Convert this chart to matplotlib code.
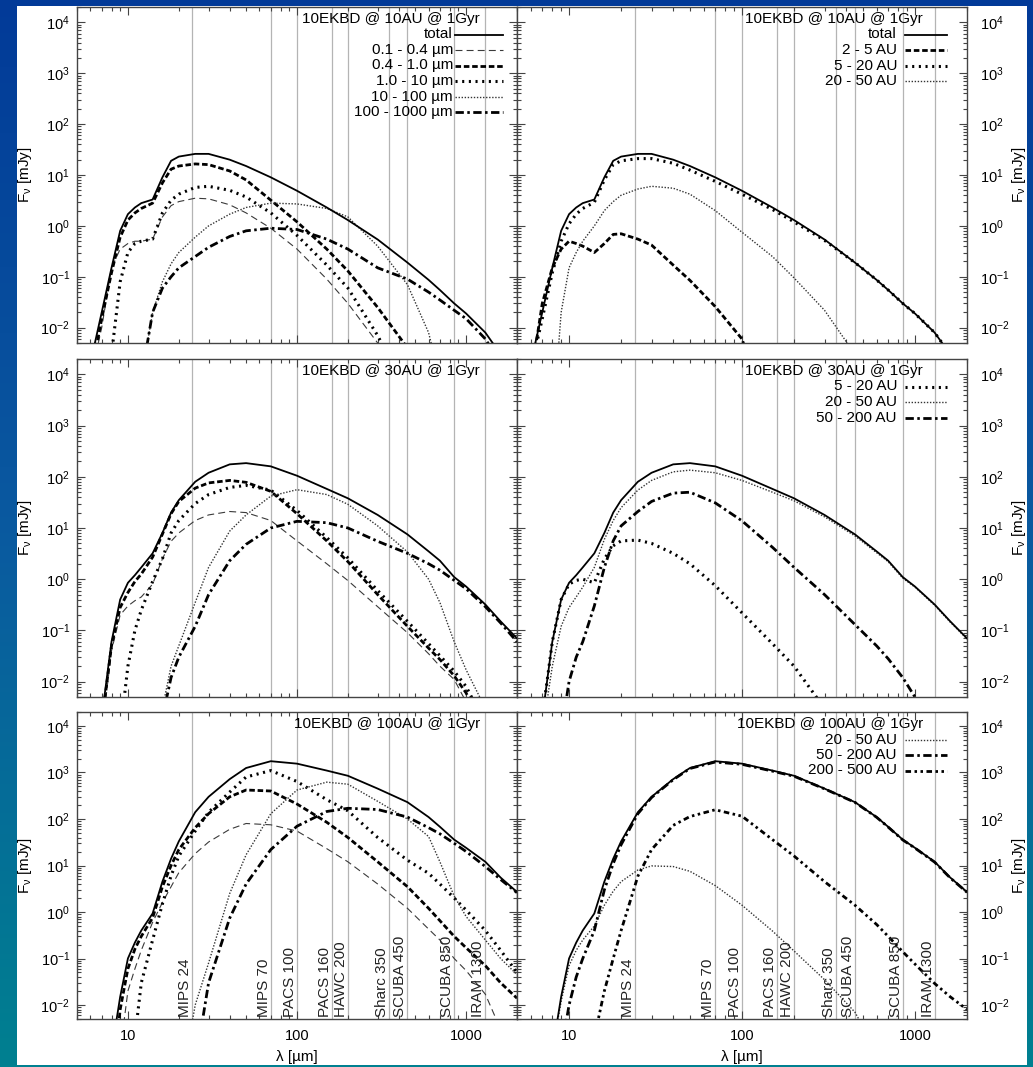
import matplotlib
matplotlib.use("Agg")
import matplotlib.pyplot as plt
import numpy as np
from matplotlib.colors import LinearSegmentedColormap
from matplotlib.patches import Rectangle
from matplotlib.ticker import (FixedLocator, LogLocator, NullFormatter,
                               LogFormatterSciNotation, FuncFormatter)
from matplotlib.transforms import blended_transform_factory

plt.rcParams["font.family"] = ["Liberation Sans", "DejaVu Sans"]
plt.rcParams["mathtext.fontset"] = "custom"
plt.rcParams["mathtext.rm"] = "Liberation Sans"
plt.rcParams["mathtext.it"] = "Liberation Sans:italic"
plt.rcParams["mathtext.default"] = "regular"
plt.rcParams["lines.scale_dashes"] = False

WL = [5, 6, 7, 8, 9, 10, 11, 12, 14, 16, 18, 20, 25, 30, 40, 50, 70, 100,
      150, 200, 300, 450, 600, 700, 850, 1000, 1300, 1600, 2000]

# ---- 10 AU disc ----
TOTAL_10AU = [1e-4, 2e-3, 0.02, 0.15, 0.8, 1.7, 2.3, 2.8, 3.3, 9, 19, 23, 26, 26, 20, 15, 9, 4.9,
              2.3, 1.3, 0.54, 0.19, 0.087, 0.055, 0.03, 0.019, 0.008, 0.003, 1e-3]
SIZE_10AU_01_04 = [1e-4, 1e-3, 0.01, 0.15, 0.35, 0.45, 0.5, 0.5, 0.55, 1.5, 2.5, 3.0, 3.5, 3.4, 2.6, 1.8, 0.9, 0.35,
                   0.09, 0.03, 0.005, 1e-4, 1e-4, 1e-4, 1e-4, 1e-4, 1e-4, 1e-4, 1e-4]
SIZE_10AU_04_1 = [1e-4, 1e-3, 0.015, 0.12, 0.6, 1.3, 1.8, 2.2, 2.8, 7, 13, 15, 16.5, 16, 12, 8, 3.2, 1.2,
                  0.35, 0.13, 0.025, 0.004, 1e-4, 1e-4, 1e-4, 1e-4, 1e-4, 1e-4, 1e-4]
SIZE_10AU_1_10 = [1e-4, 1e-4, 1e-4, 0.003, 0.08, 0.3, 0.45, 0.5, 0.55, 1.8, 3.2, 4.2, 5.7, 6.0, 5.0, 3.7, 1.8, 0.65,
                  0.17, 0.06, 0.007, 5e-4, 1e-4, 1e-4, 1e-4, 1e-4, 1e-4, 1e-4, 1e-4]
SIZE_10AU_10_100 = [1e-4, 1e-4, 1e-4, 1e-4, 1e-4, 1e-4, 1e-4, 1e-3, 0.02, 0.08, 0.18, 0.3, 0.6, 1.0, 1.7, 2.3, 2.8, 2.7,
                    2.2, 1.5, 0.4, 0.07, 0.008, 1e-3, 1e-4, 1e-4, 1e-4, 1e-4, 1e-4]
SIZE_10AU_100_1000 = [1e-4, 1e-4, 1e-4, 1e-4, 1e-4, 1e-4, 1e-4, 1e-3, 0.02, 0.06, 0.1, 0.15, 0.25, 0.38, 0.62, 0.8, 0.9, 0.85,
                      0.55, 0.35, 0.15, 0.09, 0.05, 0.035, 0.022, 0.015, 0.006, 0.002, 6e-4]
RING_10AU_2_5 = [1e-4, 1e-3, 0.03, 0.15, 0.35, 0.5, 0.45, 0.4, 0.3, 0.45, 0.68, 0.7, 0.55, 0.42, 0.17, 0.085, 0.026, 0.006,
                 1e-4, 1e-4, 1e-4, 1e-4, 1e-4, 1e-4, 1e-4, 1e-4, 1e-4, 1e-4, 1e-4]
RING_10AU_5_20 = [1e-4, 1.5e-3, 0.015, 0.12, 0.5, 1.1, 1.7, 2.2, 2.9, 8, 16, 19, 21, 21, 17, 12.5, 7.5, 4.2,
                  2.1, 1.2, 0.52, 0.19, 0.087, 0.055, 0.03, 0.019, 0.008, 0.003, 1e-3]
RING_10AU_20_50 = [1e-4, 1e-4, 1e-4, 1e-4, 0.02, 0.15, 0.3, 0.5, 1.0, 2.0, 3.0, 4.0, 5.3, 6.0, 5.5, 4.2, 2.0, 0.75,
                   0.25, 0.095, 0.022, 3e-3, 5e-4, 1e-4, 1e-4, 1e-4, 1e-4, 1e-4, 1e-4]

# ---- 30 AU disc ----
TOTAL_30AU = [1e-4, 1e-4, 2e-3, 0.06, 0.4, 0.85, 1.2, 1.7, 3.2, 8, 20, 35, 80, 120, 175, 185, 160, 105,
              58, 38, 18, 7.5, 3.5, 2.3, 1.1, 0.72, 0.32, 0.15, 0.07]
SIZE_30AU_01_04 = [1e-4, 1e-4, 1e-3, 0.04, 0.2, 0.3, 0.38, 0.45, 0.8, 2.5, 5.5, 8, 14, 18, 21, 20, 14, 5.6,
                   2.0, 0.94, 0.29, 0.09, 0.035, 0.02, 0.011, 4e-3, 1e-4, 1e-4, 1e-4]
SIZE_30AU_04_1 = [1e-4, 1e-4, 1.5e-3, 0.05, 0.28, 0.55, 0.9, 1.26, 2.7, 7.6, 19, 33, 60, 76, 85, 78, 52, 19,
                  5.6, 2.2, 0.5, 0.12, 0.045, 0.027, 0.013, 0.006, 1e-3, 1e-4, 1e-4]
SIZE_30AU_1_10 = [1e-4, 1e-4, 1e-4, 1e-4, 1e-3, 0.02, 0.1, 0.25, 0.9, 2.5, 8, 14, 30, 45, 62, 68, 55, 22,
                  6.5, 2.6, 0.6, 0.15, 0.055, 0.032, 0.016, 0.008, 1.5e-3, 1e-4, 1e-4]
SIZE_30AU_10_100 = [1e-4, 1e-4, 1e-4, 1e-4, 1e-4, 1e-4, 1e-4, 1e-4, 1e-4, 3e-3, 0.02, 0.05, 0.35, 1.7, 8.7, 18, 42, 56,
                    45, 29, 11, 3.4, 1.0, 0.35, 0.06, 0.017, 0.003, 1e-4, 1e-4]
SIZE_30AU_100_1000 = [1e-4, 1e-4, 1e-4, 1e-4, 1e-4, 1e-4, 1e-4, 1e-4, 1e-4, 2e-3, 0.012, 0.03, 0.12, 0.5, 2.3, 4.8, 10, 13.5,
                      12.7, 10, 5.5, 3.2, 2.0, 1.5, 0.95, 0.65, 0.29, 0.14, 0.06]
RING_30AU_5_20 = [1e-4, 1e-4, 2e-3, 0.06, 0.4, 0.8, 0.95, 1.0, 0.85, 2.5, 4.5, 5.6, 5.8, 5.0, 3.2, 2.0, 0.75, 0.22,
                  0.055, 0.02, 3e-3, 1e-4, 1e-4, 1e-4, 1e-4, 1e-4, 1e-4, 1e-4, 1e-4]
RING_30AU_20_50 = [1e-4, 1e-4, 1e-3, 0.02, 0.12, 0.28, 0.45, 0.7, 1.7, 6, 14, 25, 55, 85, 125, 135, 120, 85,
                   50, 34, 16.5, 7, 3.3, 2.2, 1.05, 0.7, 0.31, 0.145, 0.068]
RING_30AU_50_200 = [1e-4, 1e-4, 1e-4, 1e-4, 1e-3, 0.01, 0.03, 0.06, 0.3, 1.7, 5.6, 11, 21, 33, 48, 50, 31, 13.8,
                    4.2, 1.7, 0.5, 0.13, 0.05, 0.028, 0.012, 5e-3, 1.2e-3, 1e-4, 1e-4]

# ---- 100 AU disc ----
TOTAL_100AU = [1e-4, 1e-4, 1e-4, 1e-3, 0.015, 0.1, 0.22, 0.4, 0.93, 4.5, 14, 33, 140, 300, 720, 1250, 1750, 1550,
               1100, 850, 450, 230, 110, 68, 36, 24, 12, 5.5, 2.7]
SIZE_100AU_01_04 = [1e-4, 1e-4, 1e-4, 1e-4, 1e-3, 0.02, 0.06, 0.15, 0.6, 1.6, 3.5, 7, 18, 32, 60, 80, 75, 55,
                    23, 12, 4, 1.2, 0.43, 0.25, 0.1, 0.055, 0.017, 3e-3, 1e-4]
SIZE_100AU_04_1 = [1e-4, 1e-4, 1e-4, 1e-4, 8e-3, 0.06, 0.16, 0.3, 0.75, 3.5, 10, 22, 65, 130, 300, 420, 400, 210,
                   85, 40, 12, 3.5, 1.2, 0.65, 0.3, 0.17, 0.07, 0.03, 0.014]
SIZE_100AU_1_10 = [1e-4, 1e-4, 1e-4, 1e-4, 1e-4, 1e-4, 2e-3, 0.03, 0.25, 1.5, 6, 16, 55, 140, 380, 800, 1100, 640,
                   260, 150, 40, 13, 6.8, 4, 2, 1.1, 0.4, 0.15, 0.05]
SIZE_100AU_10_100 = [1e-4, 1e-4, 1e-4, 1e-4, 1e-4, 1e-4, 1e-4, 1e-4, 1e-4, 1e-4, 1e-4, 1e-4, 0.01, 0.08, 2.5, 17, 130, 420,
                     620, 560, 240, 100, 42, 12, 2.2, 0.8, 0.25, 0.1, 0.045]
SIZE_100AU_100_1000 = [1e-4, 1e-4, 1e-4, 1e-4, 1e-4, 1e-4, 1e-4, 1e-4, 1e-4, 1e-4, 1e-4, 1e-4, 5e-4, 0.03, 0.74, 4, 22, 70,
                       145, 170, 160, 110, 65, 48, 30, 20, 9.5, 5, 2.6]
RING_100AU_20_50 = [1e-4, 1e-4, 1e-4, 1e-3, 0.012, 0.07, 0.15, 0.25, 0.5, 1.4, 2.8, 4.5, 8, 9.8, 9.5, 7.5, 3.7, 1.4,
                    0.39, 0.145, 0.035, 0.007, 1e-3, 1e-4, 1e-4, 1e-4, 1e-4, 1e-4, 1e-4]
RING_100AU_50_200 = [1e-4, 1e-4, 1e-4, 1e-4, 1e-3, 0.01, 0.04, 0.1, 0.4, 3, 11, 28, 130, 290, 700, 1220, 1680, 1500,
                     1070, 830, 445, 228, 109, 67, 35.5, 23.7, 11.8, 5.4, 2.65]
RING_100AU_200_500 = [1e-4, 1e-4, 1e-4, 1e-4, 1e-4, 1e-4, 1e-4, 1e-4, 2e-3, 0.02, 0.1, 0.4, 5.9, 22, 73, 113, 158, 115,
                      36, 16, 4.5, 1.4, 0.54, 0.3, 0.14, 0.076, 0.029, 0.015, 0.008]

FILTER_WL = [24, 70, 100, 160, 200, 350, 450, 850, 1300]
FILTER_NAMES = ["MIPS 24", "MIPS 70", "PACS 100", "PACS 160", "HAWC 200",
                "Sharc 350", "SCUBA 450", "SCUBA 850", "IRAM 1300"]
SIZE_LABELS = ["0.1 - 0.4 µm", "0.4 - 1.0 µm", "1.0 - 10 µm", "10 - 100 µm", "100 - 1000 µm"]
Y_DECADES = [1e-2, 1e-1, 1e0, 1e1, 1e2, 1e3, 1e4]
X_DECADES = [10, 100, 1000]

STYLE = {
    "total": dict(color="black", lw=1.3, ls="-"),
    "thin_dash": dict(color="#3a3a3a", lw=0.8, dashes=(5, 3)),
    "dash": dict(color="black", lw=2.0, dashes=(4, 2)),
    "dot": dict(color="black", lw=2.2, dashes=(1.5, 3.3)),
    "fine_dot": dict(color="#333333", lw=1.0, dashes=(1, 1.2)),
    "dashdot": dict(color="black", lw=2.0, dashes=(6, 2.5, 1.8, 2.5)),
    "dashdotdot": dict(color="black", lw=2.0, dashes=(4, 2.5, 1.8, 2.5, 1.8, 2.5)),
}
SIZE_STYLES = ["thin_dash", "dash", "dot", "fine_dot", "dashdot"]

W, H = 1033, 1067
ROWS = [(7, 343), (359, 697), (712, 1019)]
COLS = [(77, 517), (517, 967)]


def box(l, t, r, b):
    return [l / W, 1 - b / H, (r - l) / W, (b - t) / H]


def draw_key(ax, col, title, entries, w_px, h_px):
    title_dx = 37 if col == 0 else 44
    lab_dx = 64 if col == 0 else 70
    s0, s1 = (62, 14) if col == 0 else (62, 20)
    y = 1 - 12 / h_px
    ax.text(1 - title_dx / w_px, y, title, transform=ax.transAxes,
            ha="right", va="center", fontsize=11)
    for i, (lab, st) in enumerate(entries):
        yy = 1 - (12 + 15.5 * (i + 1)) / h_px
        ax.text(1 - lab_dx / w_px, yy, lab, transform=ax.transAxes,
                ha="right", va="center", fontsize=11)
        ax.plot([1 - s0 / w_px, 1 - s1 / w_px], [yy, yy], transform=ax.transAxes, **STYLE[st])


def main():
    fig = plt.figure(figsize=(W / 100, H / 100), dpi=100)

    # gradient backdrop and white sheet
    bg = fig.add_axes([0, 0, 1, 1], zorder=-10)
    cmap = LinearSegmentedColormap.from_list("bg", ["#023a98", "#0a5aa0", "#008090"])
    bg.imshow(np.linspace(0, 1, 256).reshape(-1, 1), cmap=cmap, aspect="auto", extent=[0, 1, 0, 1])
    bg.axis("off")
    fig.add_artist(Rectangle((17 / W, 2 / H), (1027 - 17) / W, (1061 - 2) / H,
                             transform=fig.transFigure, facecolor="white", edgecolor="none", zorder=-5))

    panels = [
        (0, 0, "10EKBD @ 10AU @ 1Gyr", TOTAL_10AU,
         [SIZE_10AU_01_04, SIZE_10AU_04_1, SIZE_10AU_1_10, SIZE_10AU_10_100, SIZE_10AU_100_1000],
         SIZE_STYLES, [("total", "total")] + list(zip(SIZE_LABELS, SIZE_STYLES))),
        (0, 1, "10EKBD @ 10AU @ 1Gyr", TOTAL_10AU,
         [RING_10AU_2_5, RING_10AU_5_20, RING_10AU_20_50], ["dash", "dot", "fine_dot"],
         [("total", "total"), ("2 - 5 AU", "dash"), ("5 - 20 AU", "dot"), ("20 - 50 AU", "fine_dot")]),
        (1, 0, "10EKBD @ 30AU @ 1Gyr", TOTAL_30AU,
         [SIZE_30AU_01_04, SIZE_30AU_04_1, SIZE_30AU_1_10, SIZE_30AU_10_100, SIZE_30AU_100_1000],
         SIZE_STYLES, []),
        (1, 1, "10EKBD @ 30AU @ 1Gyr", TOTAL_30AU,
         [RING_30AU_5_20, RING_30AU_20_50, RING_30AU_50_200], ["dot", "fine_dot", "dashdot"],
         [("5 - 20 AU", "dot"), ("20 - 50 AU", "fine_dot"), ("50 - 200 AU", "dashdot")]),
        (2, 0, "10EKBD @ 100AU @ 1Gyr", TOTAL_100AU,
         [SIZE_100AU_01_04, SIZE_100AU_04_1, SIZE_100AU_1_10, SIZE_100AU_10_100, SIZE_100AU_100_1000],
         SIZE_STYLES, []),
        (2, 1, "10EKBD @ 100AU @ 1Gyr", TOTAL_100AU,
         [RING_100AU_20_50, RING_100AU_50_200, RING_100AU_200_500], ["fine_dot", "dashdot", "dashdotdot"],
         [("20 - 50 AU", "fine_dot"), ("50 - 200 AU", "dashdot"), ("200 - 500 AU", "dashdotdot")]),
    ]

    for row, col, title, total, comps, styles, key in panels:
        t, b = ROWS[row]
        l, r = COLS[col]
        ax = fig.add_axes(box(l, t, r, b))
        ax.set_xscale("log")
        ax.set_yscale("log")
        ax.set_xlim(5, 2000)
        ax.set_ylim(5e-3, 2e4)
        for wl in FILTER_WL:
            ax.axvline(wl, color="#b4b4b4", lw=0.9, zorder=1)
        ax.plot(WL, total, zorder=3, **STYLE["total"])
        for vals, st in zip(comps, styles):
            ax.plot(WL, vals, zorder=2, **STYLE[st])

        ax.yaxis.set_major_locator(FixedLocator(Y_DECADES))
        ax.yaxis.set_minor_locator(LogLocator(base=10, subs=np.arange(2, 10), numticks=20))
        ax.yaxis.set_major_formatter(LogFormatterSciNotation())
        ax.yaxis.set_minor_formatter(NullFormatter())
        ax.xaxis.set_major_locator(FixedLocator(X_DECADES))
        ax.xaxis.set_minor_locator(LogLocator(base=10, subs=np.arange(2, 10), numticks=10))
        ax.xaxis.set_major_formatter(FuncFormatter(lambda v, p: f"{v:g}"))
        ax.xaxis.set_minor_formatter(NullFormatter())
        ax.tick_params(which="both", direction="in", top=True, right=True,
                       color="#444444", width=0.8, labelsize=10.5)
        ax.tick_params(which="major", length=6)
        ax.tick_params(which="minor", length=3)
        ax.tick_params(axis="x", pad=7)
        for sp in ax.spines.values():
            sp.set_color("#444444")
            sp.set_linewidth(1.0)

        if col == 0:
            ax.tick_params(axis="y", labelleft=True, labelright=False, pad=5)
            ax.set_ylabel(r"F$_\nu$ [mJy]", fontsize=11)
            ax.yaxis.set_label_coords(-0.098, 0.5)
        else:
            ax.tick_params(axis="y", labelleft=False, labelright=True, pad=9)
            ax.yaxis.set_label_position("right")
            ax.set_ylabel(r"F$_\nu$ [mJy]", fontsize=11)
            ax.yaxis.set_label_coords(1.095, 0.5)
        if row < 2:
            ax.tick_params(axis="x", labelbottom=False)
        else:
            ax.set_xlabel("λ [µm]", fontsize=11)
            ax.xaxis.set_label_coords(0.5, -0.1)
            trans = blended_transform_factory(ax.transData, ax.transAxes)
            for wl, name in zip(FILTER_WL, FILTER_NAMES):
                ax.text(wl, 0.008, name, transform=trans, rotation=90,
                        ha="right", va="bottom", fontsize=11, color="#222222")

        draw_key(ax, col, title, key, r - l, b - t)

    fig.savefig("out.png", dpi=100)


if __name__ == "__main__":
    main()
